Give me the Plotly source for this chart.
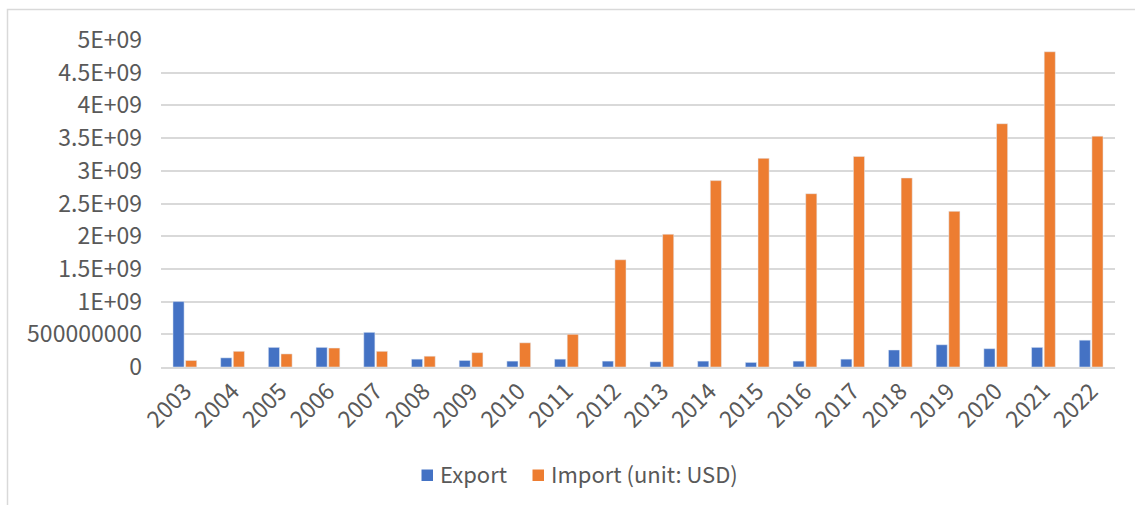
import plotly.graph_objects as go

# Annual trade values (USD)
years = [str(y) for y in range(2003, 2023)]
export_usd = [1.00e9, 0.14e9, 0.30e9, 0.30e9, 0.53e9, 0.12e9, 0.10e9, 0.09e9, 0.12e9, 0.09e9,
              0.08e9, 0.09e9, 0.07e9, 0.09e9, 0.12e9, 0.26e9, 0.34e9, 0.28e9, 0.30e9, 0.41e9]
import_usd = [0.10e9, 0.24e9, 0.20e9, 0.29e9, 0.24e9, 0.165e9, 0.22e9, 0.37e9, 0.50e9, 1.64e9,
              2.03e9, 2.85e9, 3.19e9, 2.65e9, 3.22e9, 2.89e9, 2.38e9, 3.72e9, 4.82e9, 3.53e9]

y_tick_vals = [0, 0.5e9, 1.0e9, 1.5e9, 2.0e9, 2.5e9, 3.0e9, 3.5e9, 4.0e9, 4.5e9, 5.0e9]
y_tick_text = ["0", "500000000", "1E+09", "1.5E+09", "2E+09", "2.5E+09",
               "3E+09", "3.5E+09", "4E+09", "4.5E+09", "5E+09"]

series_names = ["Export", "Import (unit: USD)"]
series_colors = ["#4472C4", "#ED7D31"]

W, H = 1135, 505
ML, MR, MT, MB = 161, 20, 40, 138
PW, PH = W - ML - MR, H - MT - MB
FONT = "Noto Sans CJK SC"
TEXT_GRAY = "#595959"
GRID = "#d9d9d9"


def px_x(x):
    return (x - ML) / PW


def px_y(y):
    return (H - MB - y) / PH


fig = go.Figure()
for name, vals, col in zip(series_names, [export_usd, import_usd], series_colors):
    fig.add_trace(go.Bar(x=years, y=vals, name=name, marker_color=col, showlegend=False))

# Chart frame plus a legend drawn as swatches + labels below the axis
shapes = [dict(type="rect", xref="paper", yref="paper",
               x0=px_x(7.5), x1=px_x(W + 10), y0=px_y(H + 10), y1=px_y(9.5),
               line=dict(color=GRID, width=1.5), layer="below")]
annotations = []
legend_items = [(421.5, series_names[0], series_colors[0]),
                (532.5, series_names[1], series_colors[1])]
for sx, label, col in legend_items:
    shapes.append(dict(type="rect", xref="paper", yref="paper",
                       x0=px_x(sx), x1=px_x(sx + 11.5), y0=px_y(481), y1=px_y(469.5),
                       line=dict(width=0), fillcolor=col))
    annotations.append(dict(xref="paper", yref="paper", x=px_x(sx + 16.5), y=px_y(472.5),
                            xanchor="left", yanchor="middle", showarrow=False, text=label,
                            font=dict(family=FONT, size=22, color=TEXT_GRAY)))

fig.update_layout(
    width=W, height=H,
    margin=dict(l=ML, r=MR, t=MT, b=MB, pad=0),
    paper_bgcolor="white", plot_bgcolor="white",
    font=dict(family=FONT, size=23, color=TEXT_GRAY),
    barmode="group", bargap=0.47, bargroupgap=0.12,
    xaxis=dict(tickangle=-45, showgrid=False, showline=True, linecolor=GRID, linewidth=1.5,
               ticks="", tickfont=dict(family=FONT, size=23, color=TEXT_GRAY)),
    yaxis=dict(range=[0, 5e9], tickvals=y_tick_vals, ticktext=y_tick_text,
               showgrid=True, gridcolor=GRID, gridwidth=1.5, zeroline=False,
               showline=False, ticks="", ticklabelstandoff=18,
               tickfont=dict(family=FONT, size=23, color=TEXT_GRAY)),
    shapes=shapes,
    annotations=annotations,
)

fig.write_html("out.html")
